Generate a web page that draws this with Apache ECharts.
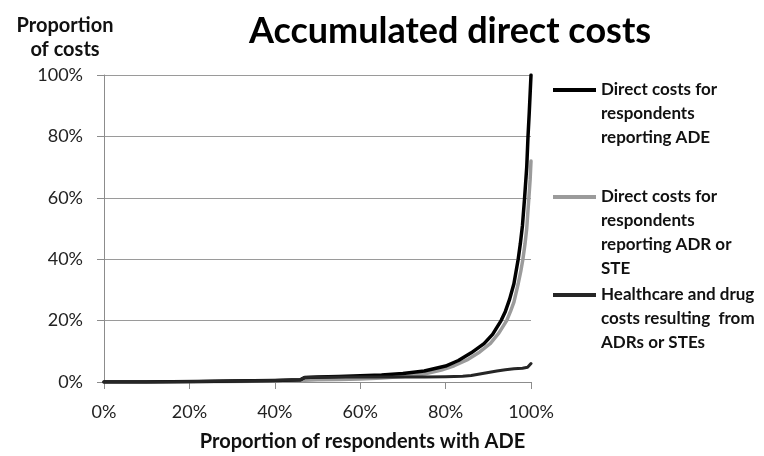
<!DOCTYPE html>
<html>
<head>
<meta charset="utf-8">
<script src="https://cdn.jsdelivr.net/npm/echarts@6/dist/echarts.min.js"></script>
<style>html,body{margin:0;padding:0;background:#fff}#c{width:764px;height:456px}</style>
</head>
<body>
<div id="c"></div>
<script>
var FONT = 'Lato, "Open Sans", sans-serif';
var titleText = 'Accumulated direct costs';
var yAxisTitle = 'Proportion\nof costs';
var xAxisTitle = 'Proportion of respondents with ADE';

var seriesNames = [
  'Direct costs for\nrespondents\nreporting ADE',
  'Direct costs for\nrespondents\nreporting ADR or\nSTE',
  'Healthcare and drug\ncosts resulting  from\nADRs or STEs'
];

var adeX = [0,10,22,30,40,46,47,50,55,60,65,70,75,80,83,86,89,91,93,94,95,96,97,97.5,98,98.5,99,99.3,99.6,99.8,100];
var adeY = [0,0,0.2,0.3,0.5,0.7,1.5,1.6,1.8,2.0,2.3,2.8,3.6,5.2,7.0,9.5,12.5,15.5,20,23,27,32,40,45,51,60,70,80,88,94,100];

var adrX = [0,10,22,30,40,46,47,50,55,60,65,70,75,79,82,85,88,90.5,92.5,94.3,95.2,96,97,97.6,98.1,98.6,99,99.5,99.8,100];
var adrY = [0,0,0.1,0.2,0.3,0.4,0.6,0.7,0.8,1.0,1.3,1.8,2.6,3.9,5.3,7.2,9.8,12.6,16,20,23,26,32,36,40,45,50,60,66,72];

var hcX = [0,10,22,30,40,46,47,55,65,75,80,84,86,88,90,92,94,96,98,99.2,99.6,100];
var hcY = [0,0,0.2,0.3,0.5,0.7,1.5,1.6,1.6,1.6,1.7,1.9,2.1,2.6,3.1,3.6,4.0,4.3,4.5,4.8,5.2,6.0];

function pairs(xs, ys){ return xs.map(function(x,i){ return [x, ys[i]]; }); }

var colors = ['#000000', '#9b9b9b', '#262626'];
var lineWidths = [3.5, 3.5, 3];
var legendTops = [30, 113, 235];
var LH = 24;

var chart = echarts.init(document.getElementById('c'));
var legends = seriesNames.map(function(n, i){
  return {
    data: [n],
    left: 553, top: legendTops[i], padding: 0,
    orient: 'vertical',
    icon: 'rect', itemWidth: 43, itemHeight: 4,
    selectedMode: false,
    formatter: function(name){
      var k = name.split('\n').length - 1;
      var pre = '';
      for (var j = 0; j < k; j++) pre += ' \n';
      return pre + name;
    },
    textStyle: {fontFamily: FONT, fontWeight: 'bold', fontSize: 17, color: '#111', lineHeight: LH}
  };
});

var datas = [pairs(adeX, adeY), pairs(adrX, adrY), pairs(hcX, hcY)];
var series = [1,0,2].map(function(i){
  return {
    name: seriesNames[i], type: 'line', data: datas[i], showSymbol: false, symbol: 'none',
    smooth: false,
    lineStyle: {color: colors[i], width: lineWidths[i], join: 'round', cap: 'round'}, itemStyle: {color: colors[i]},
    z: i === 1 ? 1 : 2
  };
});

chart.setOption({
  animation: false,
  backgroundColor: '#fff',
  title: [
    {text: titleText, left: 445, top: 8, textAlign: 'center',
     textStyle: {fontFamily: FONT, fontWeight: 'bold', fontSize: 36, color: '#000'}},
    {text: yAxisTitle, left: 60, top: 9, textAlign: 'center',
     textStyle: {fontFamily: FONT, fontWeight: 'bold', fontSize: 20, color: '#111', lineHeight: 24}}
  ],
  legend: legends,
  grid: {left: 104, right: 233, top: 75, bottom: 74, containLabel: false, outerBoundsMode: 'none'},
  xAxis: {
    type: 'value', min: 0, max: 100, interval: 20,
    name: xAxisTitle, nameLocation: 'middle', nameGap: 50,
    nameTextStyle: {fontFamily: FONT, fontWeight: 'bold', fontSize: 20, color: '#111', padding: [0,0,0,90]},
    axisLine: {lineStyle: {color: '#8c8c8c', width: 1}},
    axisTick: {show: true, inside: false, length: 7, lineStyle: {color: '#8c8c8c'}},
    axisLabel: {formatter: '{value}%', fontFamily: FONT, fontSize: 18, color: '#222', margin: 21},
    splitLine: {show: false}
  },
  yAxis: {
    type: 'value', min: 0, max: 100, interval: 20,
    axisLine: {show: true, lineStyle: {color: '#8c8c8c', width: 1}},
    axisTick: {show: true, inside: false, length: 7, lineStyle: {color: '#8c8c8c'}},
    axisLabel: {formatter: '{value}%', fontFamily: FONT, fontSize: 18, color: '#222', margin: 21},
    splitLine: {show: true, lineStyle: {color: '#9a9a9a', width: 1}}
  },
  series: series
});
</script>
</body>
</html>
